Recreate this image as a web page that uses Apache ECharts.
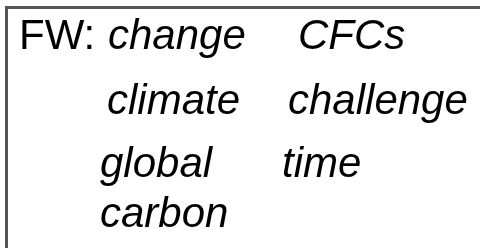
<!DOCTYPE html>
<html>
<head>
<meta charset="utf-8">
<script src="https://cdn.jsdelivr.net/npm/echarts@6/dist/echarts.min.js"></script>
<style>
  html, body { margin: 0; padding: 0; background: #fff; }
  #main { width: 480px; height: 248px; }
</style>
</head>
<body>
<div id="main"></div>
<script>
// 词表：前缀 + 各关键词
var prefix = 'FW:';
var words = ['change', 'CFCs', 'climate', 'challenge', 'global', 'time', 'carbon'];

// 版式（左边缘 x, 基线 y）
var prefixPos = [19, 50];
var wordPos = [
    [108, 50], [298, 50],
    [107, 115], [288, 115],
    [100, 178], [282, 178],
    [100, 228]
];

var chart = echarts.init(document.getElementById('main'));

var fontSize = 42;
var elements = [];

// 边框（只露出左边和上边）
elements.push({
    type: 'rect',
    shape: { x: 6.5, y: 7.5, width: 600, height: 400 },
    style: { fill: 'none', stroke: '#555', lineWidth: 3 }
});

function textEl(str, pos, italic) {
    return {
        type: 'text',
        x: pos[0],
        y: pos[1] - 13,
        style: {
            text: str,
            font: (italic ? 'italic ' : '') + fontSize + 'px "Liberation Sans", Arial, sans-serif',
            fill: '#000',
            align: 'left',
            verticalAlign: 'middle'
        }
    };
}

elements.push(textEl(prefix, prefixPos, false));
for (var i = 0; i < words.length; i++) {
    elements.push(textEl(words[i], wordPos[i], true));
}

chart.setOption({
    animation: false,
    graphic: { elements: elements }
});
</script>
</body>
</html>
